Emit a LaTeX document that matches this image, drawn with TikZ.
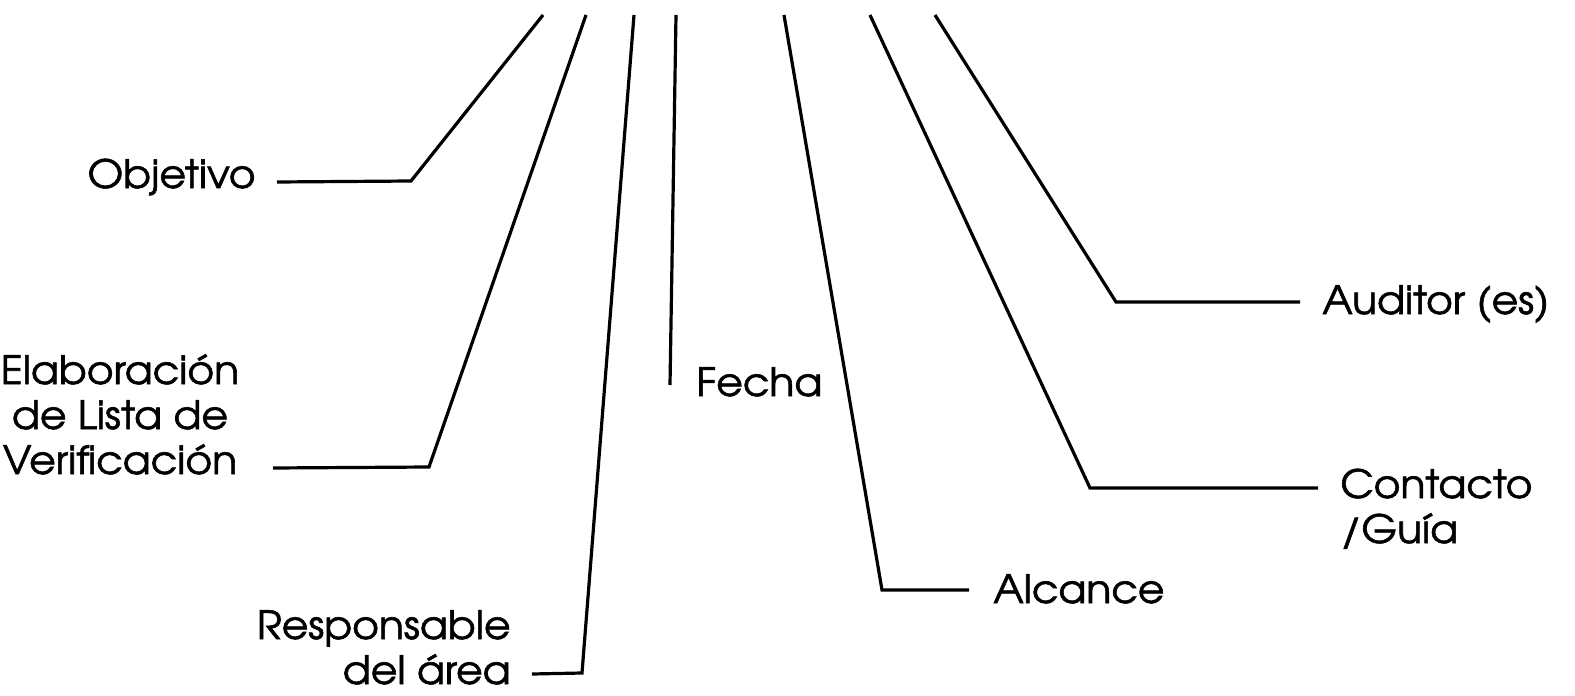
\documentclass[tikz,border=0pt]{standalone}
\usepackage{fontspec}
\setmainfont{TeX Gyre Adventor}[FakeStretch=1.05, FakeBold=1.5]
\begin{document}
\begin{tikzpicture}[x=0.5pt,y=-0.5pt,
  lbl/.style={inner sep=0pt, font=\fontsize{19.5}{22.5}\selectfont},
  conn/.style={line width=1.6pt, line join=miter}]
\useasboundingbox (0,0) rectangle (1575,696);
% tops
\coordinate (t1) at (543,15);
\coordinate (t2) at (586,15);
\coordinate (t3) at (634,15);
\coordinate (t4) at (676,15);
\coordinate (t5) at (784,15);
\coordinate (t6) at (870,15);
\coordinate (t7) at (935,15);
% bends
\coordinate (b1) at (411,181);
\coordinate (b2) at (429,467);
\coordinate (b3) at (582,673);
\coordinate (b5) at (882,590);
\coordinate (b6) at (1090,488);
\coordinate (b7) at (1116,302);
% ends
\coordinate (e1) at (277,182);
\coordinate (e2) at (273,468);
\coordinate (e3) at (532,674);
\coordinate (e4) at (670,385);
\coordinate (e5) at (969,590);
\coordinate (e6) at (1318,488);
\coordinate (e7) at (1300,302);
% labels (multi-line nodes: base anchor = last line baseline)
\node[lbl, anchor=base east] (obj) at (256,188) {Objetivo};
\node[lbl, anchor=base, align=center] (elab) at (120,474) {Elaboración\\de Lista de\\Verificación};
\node[lbl, anchor=base east, align=right] (resp) at (511,684) {Responsable\\del área};
\node[lbl, anchor=base west] (fecha) at (696,396) {Fecha};
\node[lbl, anchor=base west] (alc) at (993,603) {Alcance};
\node[lbl, anchor=base west, align=left] (cont) at (1340,543) {Contacto\\/Guía};
\node[lbl, anchor=base west] (aud) at (1322,314) {Auditor (es)};
% connectors
\draw[conn] (t1) -- (b1) -- (e1);
\draw[conn] (t2) -- (b2) -- (e2);
\draw[conn] (t3) -- (b3) -- (e3);
\draw[conn] (t4) -- (e4);
\draw[conn] (t5) -- (b5) -- (e5);
\draw[conn] (t6) -- (b6) -- (e6);
\draw[conn] (t7) -- (b7) -- (e7);
\end{tikzpicture}
\end{document}
